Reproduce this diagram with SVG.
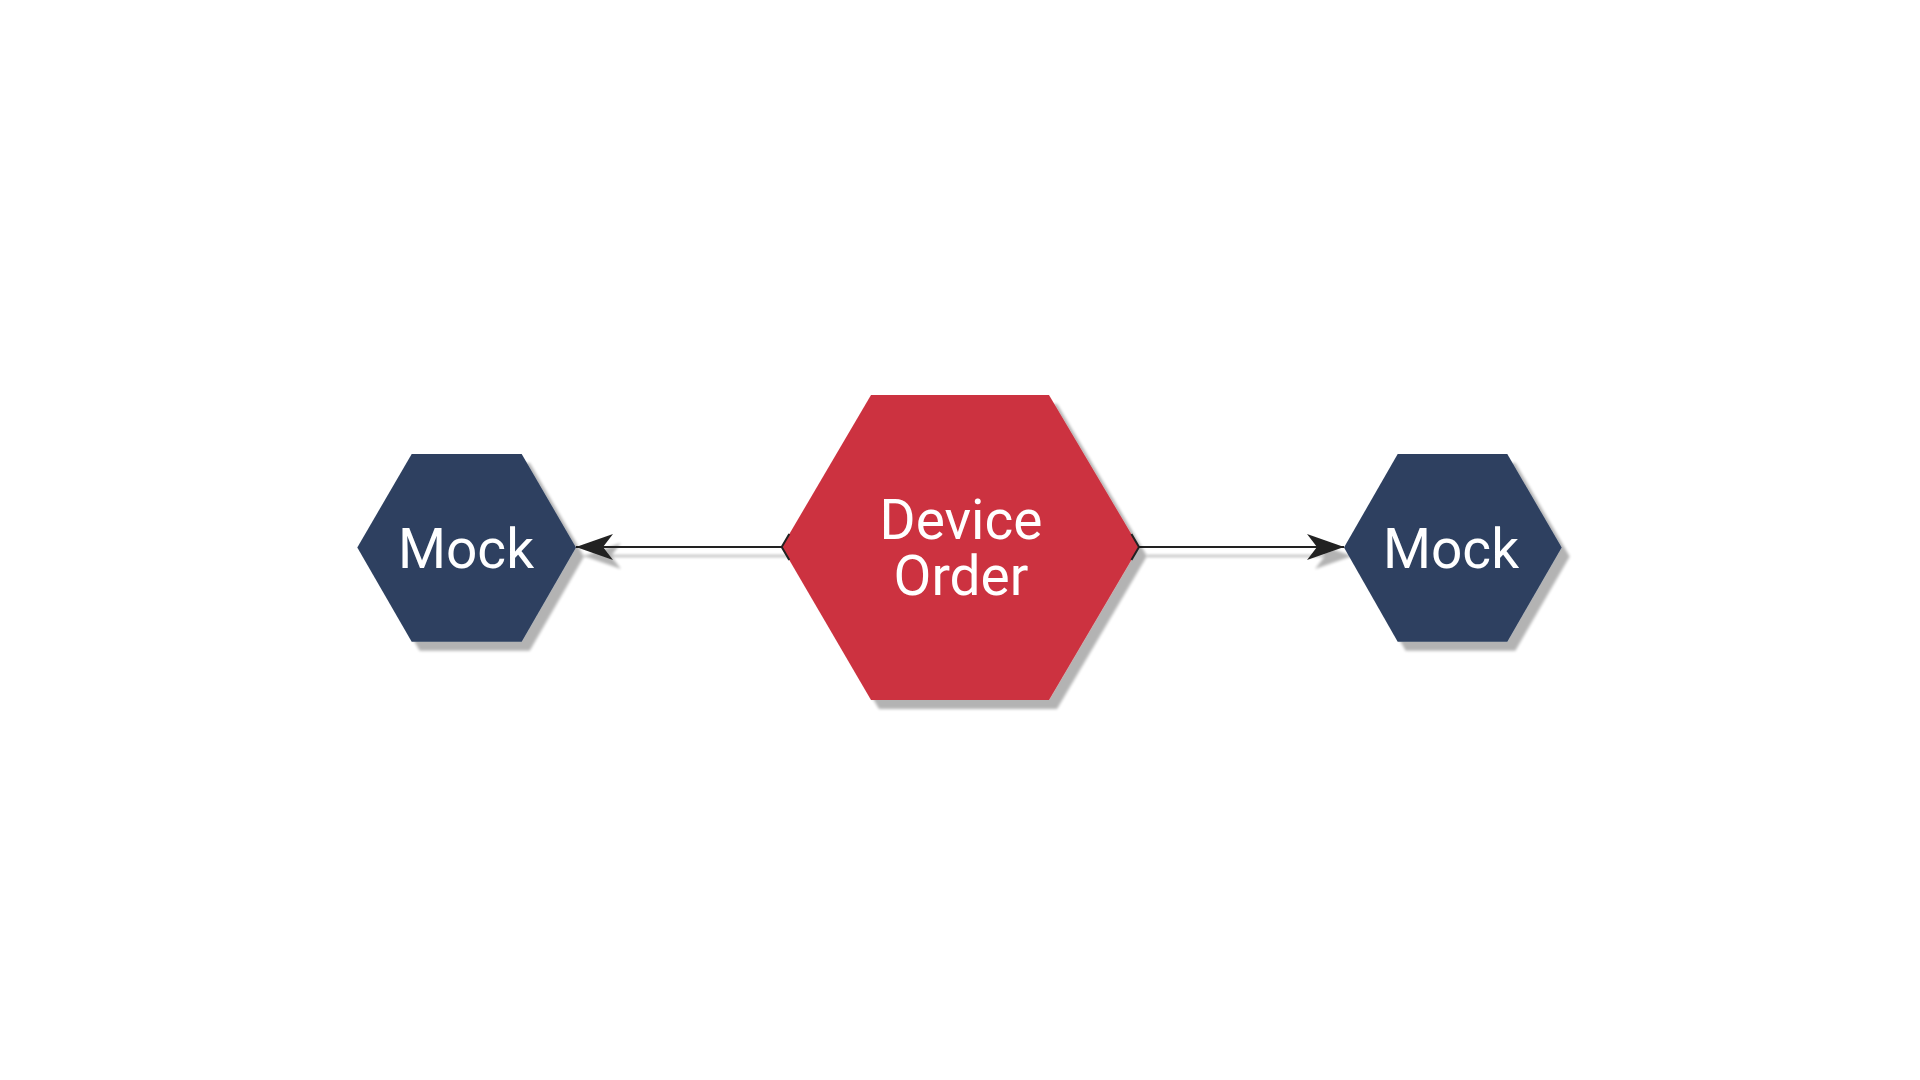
<svg xmlns="http://www.w3.org/2000/svg" width="1920" height="1080" viewBox="0 0 1920 1080">
  <defs>
    <filter id="shadow" filterUnits="userSpaceOnUse" x="0" y="0" width="1920" height="1080">
      <feGaussianBlur in="SourceAlpha" stdDeviation="1.5"/>
      <feOffset dx="8" dy="9" result="o"/>
      <feComponentTransfer><feFuncA type="linear" slope="0.3"/></feComponentTransfer>
      <feMerge><feMergeNode/><feMergeNode in="SourceGraphic"/></feMerge>
    </filter>
    <marker id="arrow" markerUnits="userSpaceOnUse" markerWidth="40" markerHeight="30" viewBox="-38 -14 40 28" refX="0" refY="0" orient="auto">
      <path d="M0,0 L-37,-13 L-27,0 L-37,13 Z" fill="#222"/>
    </marker>
    <style>
      .hex-blue { fill: #2E4160; }
      .hex-red { fill: #CC3340; }
      .label { fill: #FFFFFF; font-family: Roboto, "Liberation Sans", sans-serif; font-size: 55px; text-anchor: middle; }
      .edge { stroke: #222; stroke-width: 2; fill: none; }
    </style>
  </defs>
  <rect width="1920" height="1080" fill="#FFFFFF"/>
  <g id="connectors" filter="url(#shadow)">
    <line class="edge" x1="781.7" y1="547" x2="576" y2="547" marker-end="url(#arrow)"/>
    <line class="edge" x1="1139" y1="547" x2="1344" y2="547" marker-end="url(#arrow)"/>
  </g>
  <g id="node-device-order" filter="url(#shadow)">
    <polygon class="hex-red" points="871,395 1049,395 1139,547 1049,700 871,700 781.7,547"/>
    <text class="label" x="961" y="539">Device</text>
    <text class="label" x="961" y="595">Order</text>
  </g>
  <g id="connector-tips">
    <polyline class="edge" points="789.3,534 781.7,547 789.3,560"/>
    <polyline class="edge" points="1131.4,534 1139,547 1131.4,560"/>
  </g>
  <g id="node-mock-left" filter="url(#shadow)">
    <polygon class="hex-blue" points="411.7,454 521.7,454 576,547.5 521.7,641.7 411.7,641.7 357.3,547.5"/>
    <text class="label" x="466" y="568">Mock</text>
  </g>
  <g id="node-mock-right" filter="url(#shadow)">
    <polygon class="hex-blue" points="1397.7,454 1507.3,454 1561.7,547.5 1507.3,641.7 1397.7,641.7 1344,547.5"/>
    <text class="label" x="1451" y="568">Mock</text>
  </g>
</svg>
